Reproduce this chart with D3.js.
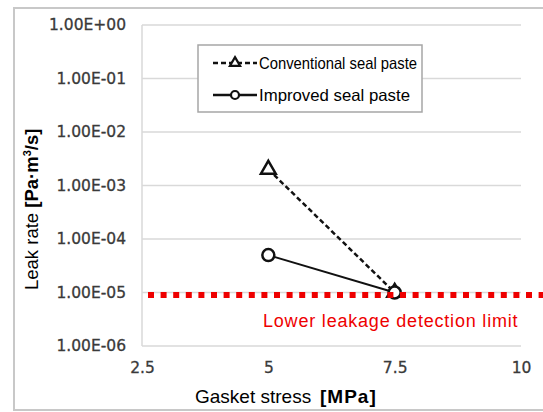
<!DOCTYPE html>
<html>
<head>
<meta charset="utf-8">
<script src="https://cdn.jsdelivr.net/npm/d3@7"></script>
<style>
  html, body { margin: 0; padding: 0; background: #fff; }
  svg { display: block; }
</style>
</head>
<body>
<svg id="chart" width="543" height="412"></svg>
<script>
// Leak rate versus gasket stress for two seal pastes
const stress = [5, 7.5];                       // MPa
const conventional = [2e-3, 1e-5];             // Pa·m³/s
const improved = [5e-5, 1e-5];                 // Pa·m³/s
const detectionLimit = 9e-6;                   // lower leakage detection limit
const xTicks = [2.5, 5, 7.5, 10];
const yTicks = [1e-6, 1e-5, 1e-4, 1e-3, 1e-2, 1e-1, 1e0];

const svg = d3.select("#chart");
const W = 543, H = 412;

const x = d3.scaleLinear().domain([2.5, 10]).range([142, 521]);
const y = d3.scaleLog().domain([1e-6, 1]).range([346, 25]);

const tickFont = "'DejaVu Sans', Verdana, sans-serif";
const textFont = "'Liberation Sans', Arial, sans-serif";

// outer frame
svg.append("rect").attr("x", 0).attr("y", 0).attr("width", W).attr("height", H).attr("fill", "#fff");
svg.append("rect")
  .attr("x", 14).attr("y", 8).attr("width", W).attr("height", 402)
  .attr("fill", "none").attr("stroke", "#c8c8c8").attr("stroke-width", 2);

// horizontal gridlines
svg.append("g").selectAll("line").data(yTicks).join("line")
  .attr("x1", x(2.5)).attr("x2", x(10))
  .attr("y1", d => y(d)).attr("y2", d => y(d))
  .attr("stroke", "#d9d9d9").attr("stroke-width", 1.5);

// left value axis line
svg.append("line")
  .attr("x1", x(2.5)).attr("x2", x(2.5))
  .attr("y1", y(1)).attr("y2", y(1e-6))
  .attr("stroke", "#d9d9d9").attr("stroke-width", 1.5);

// y tick labels in 1.00E-05 style
const sci = v => {
  const e = Math.round(Math.log10(v));
  const m = v / Math.pow(10, e);
  return m.toFixed(2) + "E" + (e < 0 ? "-" : "+") + String(Math.abs(e)).padStart(2, "0");
};
const yAxis = d3.axisLeft(y).tickValues(yTicks).tickFormat(sci).tickSize(0).tickPadding(16);
const gy = svg.append("g").attr("transform", `translate(${x(2.5)},0)`).call(yAxis);
gy.select(".domain").remove();
gy.selectAll("text")
  .attr("font-family", tickFont).attr("font-size", 15.5).attr("fill", "#3a3a3a")
  .attr("stroke", "#3a3a3a").attr("stroke-width", 0.3);

// x tick labels
const xAxis = d3.axisBottom(x).tickValues(xTicks).tickFormat(d3.format("")).tickSize(0).tickPadding(16);
const gx = svg.append("g").attr("transform", `translate(0,${y(1e-6)})`).call(xAxis);
gx.select(".domain").remove();
gx.selectAll("text")
  .attr("font-family", tickFont).attr("font-size", 15.5).attr("fill", "#3a3a3a")
  .attr("stroke", "#3a3a3a").attr("stroke-width", 0.3);

// axis titles
const xt = svg.append("text")
  .attr("x", 195).attr("y", 403)
  .attr("font-family", textFont).attr("font-size", 19).attr("fill", "#000");
xt.append("tspan").text("Gasket stress");
xt.append("tspan").attr("x", 320).attr("font-weight", "bold").attr("letter-spacing", 1).text("[MPa]");

const yt = svg.append("text")
  .attr("transform", "translate(38,290) rotate(-90)")
  .attr("font-family", textFont).attr("font-size", 18.5).attr("fill", "#000");
yt.append("tspan").text("Leak rate ");
yt.append("tspan").attr("font-weight", "bold").text("[Pa·m");
yt.append("tspan").attr("font-weight", "bold").attr("font-size", 11).attr("dy", -7).text("3");
yt.append("tspan").attr("font-weight", "bold").attr("dy", 7).text("/s]");

// series
const line = d3.line().x(d => x(d[0])).y(d => y(d[1]));
const convPts = stress.map((s, i) => [s, conventional[i]]);
const impPts = stress.map((s, i) => [s, improved[i]]);

svg.append("path").datum(convPts).attr("d", line)
  .attr("fill", "none").attr("stroke", "#111").attr("stroke-width", 2.5)
  .attr("stroke-dasharray", "5,3");
svg.append("path").datum(impPts).attr("d", line)
  .attr("fill", "none").attr("stroke", "#111").attr("stroke-width", 2);

const tri = d3.symbol().type(d3.symbolTriangle);
svg.append("g").selectAll("path").data(convPts).join("path")
  .attr("d", tri.size(95))
  .attr("transform", d => `translate(${x(d[0])},${y(d[1])})`)
  .attr("fill", "#fff").attr("stroke", "#111").attr("stroke-width", 2.5);
svg.append("g").selectAll("circle").data(impPts).join("circle")
  .attr("cx", d => x(d[0])).attr("cy", d => y(d[1])).attr("r", 6)
  .attr("fill", "#fff").attr("stroke", "#111").attr("stroke-width", 2.5);

// detection limit
svg.append("line")
  .attr("x1", x(2.5)).attr("x2", W)
  .attr("y1", y(detectionLimit)).attr("y2", y(detectionLimit))
  .attr("stroke", "#ee0000").attr("stroke-width", 6)
  .attr("stroke-dasharray", "6,6.6").attr("stroke-dashoffset", 6.6);
svg.append("text")
  .attr("x", 263).attr("y", 327)
  .attr("font-family", textFont).attr("font-size", 18).attr("letter-spacing", 0.8)
  .attr("fill", "#ee0000").text("Lower leakage detection limit");

// legend
const lg = svg.append("g");
lg.append("rect").attr("x", 198).attr("y", 45).attr("width", 224).attr("height", 67)
  .attr("fill", "#fff").attr("stroke", "#a6a6a6").attr("stroke-width", 1.5);
const items = [
  { name: "Conventional seal paste", dash: "5,3", marker: "tri", y: 63, len: 158 },
  { name: "Improved seal paste", dash: null, marker: "circle", y: 95, len: 151 }
];
items.forEach(it => {
  lg.append("line").attr("x1", 213).attr("x2", 257).attr("y1", it.y).attr("y2", it.y)
    .attr("stroke", "#111").attr("stroke-width", 2.5)
    .attr("stroke-dasharray", it.dash);
  if (it.marker === "tri") {
    lg.append("path").attr("d", d3.symbol().type(d3.symbolTriangle).size(45)())
      .attr("transform", `translate(235,${it.y})`)
      .attr("fill", "#fff").attr("stroke", "#111").attr("stroke-width", 2.2);
  } else {
    lg.append("circle").attr("cx", 235).attr("cy", it.y).attr("r", 4)
      .attr("fill", "#fff").attr("stroke", "#111").attr("stroke-width", 2.2);
  }
  lg.append("text").attr("x", 259).attr("y", it.y + 6)
    .attr("font-family", textFont).attr("font-size", 16.5).attr("fill", "#000")
    .attr("textLength", it.len).attr("lengthAdjust", "spacingAndGlyphs")
    .text(it.name);
});
</script>
</body>
</html>
